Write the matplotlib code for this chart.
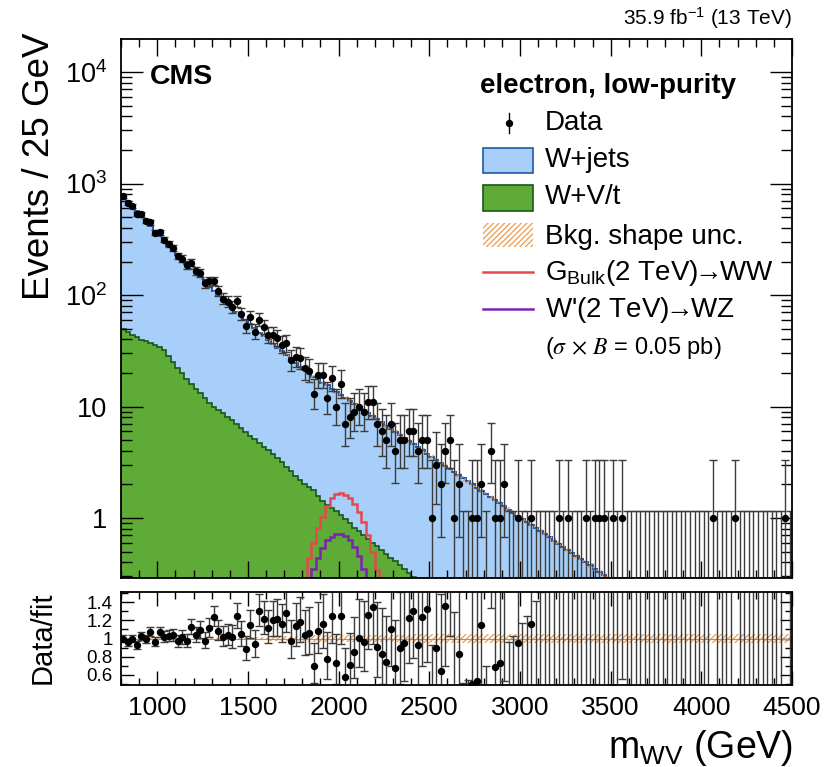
import numpy as np
import matplotlib
matplotlib.use("Agg")
import matplotlib.pyplot as plt
from matplotlib.patches import Rectangle
from matplotlib.lines import Line2D
from matplotlib.ticker import MultipleLocator, FixedLocator, FixedFormatter, LogLocator, NullFormatter

plt.rcParams['font.family'] = ['Liberation Sans', 'DejaVu Sans']
plt.rcParams['mathtext.fontset'] = 'custom'
plt.rcParams['mathtext.rm'] = 'Liberation Sans'
plt.rcParams['mathtext.it'] = 'Liberation Sans:italic'
plt.rcParams['mathtext.bf'] = 'Liberation Sans:bold'
plt.rcParams['mathtext.fallback'] = 'stixsans'
plt.rcParams['hatch.linewidth'] = 0.9

# binning (GeV)
x_lo, x_hi, bin_width = 800, 4500, 25

# observed events per 25 GeV bin, from 800 GeV
data_counts = [
    775, 670, 630, 530, 529, 461, 450, 364, 365, 314,
    286, 263, 224, 212, 186, 195, 164, 158, 128, 133,
    134, 108, 93, 87, 78, 88, 68, 53, 63, 47,
    60, 52, 44, 44, 41, 36, 37, 26, 28, 27,
    22, 21, 13, 19, 19, 12, 18, 10, 16, 7,
    8, 9, 10, 9, 11, 11, 7, 6, 5, 7,
    4, 5, 5, 6, 6, 4, 5, 5, 1, 3,
    2, 4, 5, 1, 2, 0, 0, 1, 1, 2,
    0, 4, 1, 1, 2, 0, 0, 1, 0, 0,
    1, 0, 0, 0, 0, 0, 1, 0, 1, 0,
    0, 0, 1, 0, 1, 1, 1, 0, 1, 0,
    1, 0, 0, 0, 0, 0, 0, 0, 0, 0,
    0, 0, 0, 0, 0, 0, 0, 0, 0, 0,
    1, 0, 0, 0, 0, 1, 0, 0, 0, 0,
    0, 0, 0, 0, 0, 0, 1, 0,
]

# total background fit (W+jets + W+V/t) per bin
fit_total = [
    775, 699, 631, 570, 514, 464, 419, 378, 341, 308,
    278, 253, 230, 209, 191, 173, 158, 144, 131, 119,
    108, 99.3, 91.2, 83.8, 76.9, 70.6, 64.9, 59.6, 54.7, 50.2,
    46.1, 42.7, 39.4, 36.5, 33.7, 31.2, 28.8, 26.7, 24.7, 22.8,
    21.1, 19.8, 18.6, 17.5, 16.4, 15.5, 14.5, 13.6, 12.8, 12.05,
    11.3, 10.6, 9.95, 9.33, 8.75, 8.20, 7.69, 7.21, 6.76, 6.34,
    5.95, 5.58, 5.23, 4.91, 4.60, 4.31, 4.05, 3.79, 3.56, 3.34,
    3.13, 2.94, 2.75, 2.58, 2.42, 2.27, 2.13, 2.00, 1.87, 1.75,
    1.65, 1.54, 1.45, 1.36, 1.27, 1.19, 1.12, 1.05, 0.984, 0.923,
    0.866, 0.812, 0.761, 0.714, 0.670, 0.628, 0.589, 0.552, 0.518, 0.486,
    0.455, 0.427, 0.400, 0.376, 0.352, 0.330, 0.310, 0.290, 0.274, 0.258,
    0.243, 0.229, 0.215, 0.203, 0.191, 0.180, 0.169, 0.160, 0.150, 0.142,
    0.133, 0.126, 0.118, 0.111, 0.105, 0.0989, 0.0931, 0.0877, 0.0826, 0.0778,
    0.0733, 0.0690, 0.0650, 0.0612, 0.0577, 0.0543, 0.0512, 0.0482, 0.0454, 0.0428,
    0.0403, 0.0380, 0.0357, 0.0337, 0.0317, 0.0299, 0.0281, 0.0265,
]

# W+V/t component, first bins only (below the axis afterwards)
wvt_counts = [
    50.1, 46.8, 44.2, 42.2, 39.8, 38.5, 37.2, 35.5, 33.9, 32.4,
    28.5, 25.1, 22.4, 20.0, 17.8, 15.8, 14.5, 13.2, 12.0, 10.8,
    10.0, 9.33, 8.71, 8.13, 7.50, 6.92, 6.46, 5.96, 5.50, 5.13,
    4.73, 4.37, 4.07, 3.76, 3.47, 3.16, 2.88, 2.63, 2.40, 2.19,
    2.04, 1.91, 1.78, 1.58, 1.41, 1.32, 1.23, 1.15, 1.07, 0.989,
    0.902, 0.813, 0.759, 0.700, 0.646, 0.603, 0.556, 0.513, 0.479, 0.442,
    0.412, 0.380, 0.351, 0.324, 0.299, 0.275, 0.254,
]

# signals, bins starting at 1825 GeV
signal_start = 1825
gbulk_signal = [0.435, 0.593, 0.808, 1.03, 1.28, 1.50, 1.66, 1.69,
                1.61, 1.50, 1.35, 1.14, 0.93, 0.70, 0.50, 0.34]
wprime_signal = [0, 0.35, 0.435, 0.535, 0.635, 0.68, 0.72, 0.72,
                 0.69, 0.635, 0.553, 0.456, 0.35, 0, 0, 0]

# relative shape uncertainty, per 100 GeV block
band_rel = [0.008, 0.008, 0.008, 0.008, 0.009, 0.010, 0.012, 0.018, 0.025, 0.030,
            0.035, 0.037, 0.040, 0.040, 0.042, 0.043, 0.044, 0.045, 0.046, 0.046,
            0.047, 0.047, 0.048, 0.048, 0.048, 0.049, 0.049, 0.049, 0.049, 0.050,
            0.050, 0.050, 0.050, 0.050, 0.050, 0.050, 0.050]

blue_fill = '#a7cff9'
blue_line = '#2256a6'
green_fill = '#5fab38'
green_line = '#17561a'
orange = '#f09a4e'
red = '#e8474d'
purple = '#7a22b2'
err_col = '#3c3c3c'

W, H = 828, 767
def fx(px):
    return px / W
def fy(py):
    return 1 - py / H

edges = np.arange(x_lo, x_hi + 1, bin_width)
centers = 0.5 * (edges[:-1] + edges[1:])
n = np.array(data_counts, dtype=float)
fit = np.array(fit_total)
wvt = np.array(wvt_counts)
band = np.repeat(band_rel, 4)

err_lo = np.where(n > 0, np.sqrt(np.clip(n - 0.25, 0, None)), 0.0)
err_hi = np.where(n > 0, np.sqrt(n + 0.75) + 1.0, 1.15)

ylo, yhi = 0.29, 1.98e4

fig = plt.figure(figsize=(8.28, 7.67), dpi=100)
ax = fig.add_axes([fx(121), fy(578), fx(792) - fx(121), fy(39) - fy(578)])
ax2 = fig.add_axes([fx(121), fy(685), fx(792) - fx(121), fy(592) - fy(685)])

# stacked backgrounds
ax.stairs(fit, edges, fill=True, baseline=ylo * 0.5, facecolor=blue_fill, linewidth=0)
ax.stairs(wvt, edges[:len(wvt) + 1], fill=True, baseline=ylo * 0.5,
          facecolor=green_fill, edgecolor=green_line, linewidth=1.2)
ax.stairs(fit, edges, baseline=None, color=blue_line, linewidth=1.4)
band_lo = fit * (1 - band)
band_hi = fit * (1 + band)
ax.fill_between(edges, np.append(band_lo, band_lo[-1]), np.append(band_hi, band_hi[-1]),
                step='post', facecolor='none', edgecolor=orange, hatch='//////', linewidth=0)

# signals
i0 = (signal_start - x_lo) // bin_width
for sig, col in [(gbulk_signal, red), (wprime_signal, purple)]:
    full = np.zeros(len(centers))
    full[i0:i0 + len(sig)] = sig
    ax.stairs(np.clip(full, ylo, None), edges, baseline=None, color=col, linewidth=1.8)

# data
ax.errorbar(centers, n, yerr=[err_lo, err_hi], fmt='none', ecolor=err_col,
            elinewidth=1.0, capsize=2.6, capthick=1.0)
nz = n > 0
ax.plot(centers[nz], n[nz], 'o', color='black', ms=4.3)

ax.set_yscale('log')
ax.set_xlim(x_lo, x_hi)
ax.set_ylim(ylo, yhi)
ax.yaxis.set_major_locator(FixedLocator([1, 10, 100, 1000, 10000]))
ax.yaxis.set_major_formatter(FixedFormatter(['1', '10', '$10^{2}$', '$10^{3}$', '$10^{4}$']))
ax.yaxis.set_minor_locator(LogLocator(base=10, subs=np.arange(2, 10), numticks=20))
ax.yaxis.set_minor_formatter(NullFormatter())
ax.xaxis.set_major_locator(MultipleLocator(500))
ax.xaxis.set_minor_locator(MultipleLocator(100))
ax.tick_params(axis='both', which='both', direction='in', top=True, right=True)
ax.tick_params(axis='x', which='major', length=12, width=1.0, labelbottom=False)
ax.tick_params(axis='x', which='minor', length=6, width=1.0)
ax.tick_params(axis='y', which='major', length=16, width=1.0, labelsize=19.5, pad=10)
ax.tick_params(axis='y', which='minor', length=8, width=1.0)
for s in ax.spines.values():
    s.set_linewidth(1.3)

# ratio panel
ratio = n / fit
r_lo = err_lo / fit
r_hi = err_hi / fit
ax2.fill_between(edges, np.append(1 - band, 1 - band[-1]), np.append(1 + band, 1 + band[-1]),
                 step='post', facecolor='none', edgecolor=orange, hatch='//////', linewidth=0)
ax2.axhline(1, color='#c98a52', linewidth=0.8)
ax2.errorbar(centers, ratio, yerr=[r_lo, r_hi], fmt='none', ecolor=err_col,
             elinewidth=1.0, capsize=2.6, capthick=1.0)
ax2.plot(centers[nz], ratio[nz], 'o', color='black', ms=4.3)
ax2.set_xlim(x_lo, x_hi)
ax2.set_ylim(0.49, 1.51)
ax2.yaxis.set_major_locator(FixedLocator([0.6, 0.8, 1.0, 1.2, 1.4]))
ax2.yaxis.set_major_formatter(FixedFormatter(['0.6', '0.8', '1', '1.2', '1.4']))
ax2.yaxis.set_minor_locator(MultipleLocator(0.1))
ax2.xaxis.set_major_locator(MultipleLocator(500))
ax2.xaxis.set_minor_locator(MultipleLocator(100))
ax2.tick_params(axis='both', which='both', direction='in', top=True, right=True)
ax2.tick_params(axis='x', which='major', length=10, width=1.0, labelsize=19, pad=8)
ax2.tick_params(axis='x', which='minor', length=5, width=1.0)
ax2.tick_params(axis='y', which='major', length=9, width=1.0, labelsize=13.5, pad=6)
ax2.tick_params(axis='y', which='minor', length=5, width=1.0)
for s in ax2.spines.values():
    s.set_linewidth(1.3)

# axis titles and labels
fig.text(fx(40), fy(32), 'Events / 25 GeV', rotation=90, ha='center', va='top', fontsize=26.5)
fig.text(fx(43), fy(638), 'Data/fit', rotation=90, ha='center', va='center', fontsize=21)
fig.text(fx(793), fy(758), r'm$_{\rm WV}$ (GeV)', ha='right', va='baseline', fontsize=27)
fig.text(fx(792), fy(25), r'35.9 fb$^{-1}$ (13 TeV)', ha='right', va='baseline', fontsize=15)
fig.text(fx(150), fy(84), 'CMS', fontsize=20.5, fontweight='bold', va='baseline')

# legend
fig.text(fx(480), fy(93), 'electron, low-purity', fontsize=20, fontweight='bold', va='baseline')
fig.add_artist(Line2D([fx(509), fx(509)], [fy(113), fy(133)], color='black', linewidth=1.0))
fig.add_artist(Line2D([fx(509)], [fy(123)], marker='o', ms=4.3, color='black'))
fig.text(fx(545), fy(130), 'Data', fontsize=20, va='baseline')

boxes = [
    (148, 173, blue_fill, blue_line, None, 'W+jets', 167),
    (185, 211, green_fill, green_line, None, 'W+V/t', 204),
    (223, 247, 'none', orange, '//////', 'Bkg. shape unc.', 244),
]
for top, bot, fc, ec, hatch, label, base in boxes:
    fig.add_artist(Rectangle((fx(483), fy(bot)), fx(533) - fx(483), fy(top) - fy(bot),
                             transform=fig.transFigure, facecolor=fc, edgecolor=ec,
                             hatch=hatch, linewidth=1.2 if hatch is None else 0))
    fig.text(fx(545), fy(base), label, fontsize=20, va='baseline')

fig.add_artist(Line2D([fx(483), fx(533)], [fy(272), fy(272)], color=red, linewidth=1.8))
fig.text(fx(545), fy(280), r'G$_{\rm Bulk}$(2 TeV)$\!\!\rightarrow\!\!$WW', fontsize=20, va='baseline')
fig.add_artist(Line2D([fx(483), fx(533)], [fy(309), fy(309)], color=purple, linewidth=1.8))
fig.text(fx(545), fy(317), r"W'(2 TeV)$\!\!\rightarrow\!\!$WZ", fontsize=20, va='baseline')
fig.text(fx(545), fy(354), r'($\sigma$ $\times$ $B$ = 0.05 pb)', fontsize=17,
         va='baseline', math_fontfamily='stix')

fig.savefig('out.png', dpi=100)
